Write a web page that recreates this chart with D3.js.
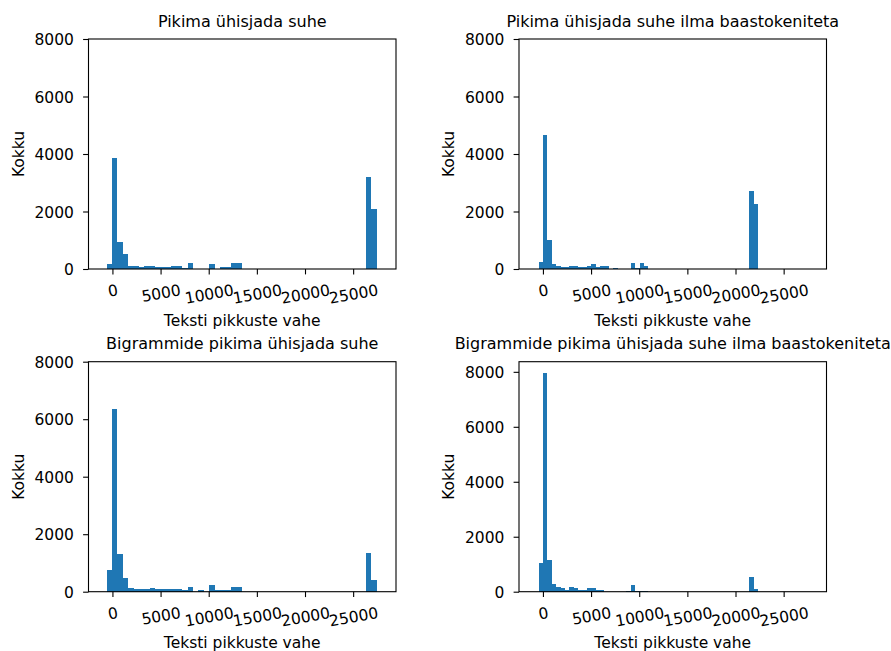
<!DOCTYPE html>
<html><head><meta charset="utf-8">
<script src="https://cdn.jsdelivr.net/npm/d3@7"></script>
<style>body{margin:0;background:#fff}svg{display:block}text{font-family:"DejaVu Sans",sans-serif;fill:#000}</style>
</head><body><svg id="c" width="891" height="651"></svg>
<script>
// ---------- data ----------
const titles = [
  "Pikima ühisjada suhe",
  "Pikima ühisjada suhe ilma baastokeniteta",
  "Bigrammide pikima ühisjada suhe",
  "Bigrammide pikima ühisjada suhe ilma baastokeniteta"
];
const xLabel = "Teksti pikkuste vahe";
const yLabel = "Kokku";
const binCount = 50;
const binRangeFull = [-600, 27450];     // panels 1 & 3
const binRangeNoBase = [-454, 22346];   // panels 2 & 4
const countsLcs = [170, 3870, 950, 510, 115, 110, 60, 115, 115, 70, 70, 60, 115, 115, 50, 210, 0, 0, 0, 160, 0, 55, 55, 200, 200,
  0,0,0,0,0,0,0,0,0,0,0,0,0,0,0,0,0,0,0,0,0,0,0, 3210, 2077];
const countsLcsNoBase = [254, 4660, 1000, 160, 115, 70, 70, 116, 116, 70, 70, 116, 162, 70, 116, 116, 0, 50, 0, 0, 0, 209, 40, 209, 116,
  0,0,0,0,0,0,0,0,0,0,0,0,0,0,0,0,0,0,0,0,0,0,0, 2713, 2261];
const countsBigram = [750, 6370, 1300, 460, 140, 95, 95, 100, 140, 100, 80, 100, 100, 100, 70, 150, 0, 45, 0, 250, 50, 50, 50, 150, 150,
  0,0,0,0,0,0,0,0,0,0,0,0,0,0,0,0,0,0,0,0,0,0,0, 1360, 410];
const countsBigramNoBase = [1055, 7970, 1150, 270, 160, 130, 60, 160, 120, 60, 60, 150, 150, 50, 50, 0, 0, 0, 0, 0, 40, 230, 40, 40, 40,
  0,0,0,0,0,0,0,0,0,0,0,0,0,0,0,0,0,0,0,0,0,0,0, 520, 100];
const xTicks = [0, 5000, 10000, 15000, 20000, 25000];
const yTicks = [0, 2000, 4000, 6000, 8000];
const xLimits = [-2485, 29450];
const yFixedMax = 8000;

// ---------- layout ----------
const W = 307.5, H = 230;
const panels = [
  {left: 88.5, top: 39,    title: titles[0], counts: countsLcs,          range: binRangeFull,   yMax: yFixedMax},
  {left: 519,  top: 39,    title: titles[1], counts: countsLcsNoBase,    range: binRangeNoBase, yMax: yFixedMax},
  {left: 88.5, top: 361.7, title: titles[2], counts: countsBigram,       range: binRangeFull,   yMax: yFixedMax},
  {left: 519,  top: 361.7, title: titles[3], counts: countsBigramNoBase, range: binRangeNoBase, yMax: null}
];
const FS = 15.5, TFS = 16, TICK = 5.4, SW = 1.1;
const svg = d3.select("#c");

panels.forEach(p => {
  const g = svg.append("g").attr("transform", `translate(${p.left},${p.top})`);
  const x = d3.scaleLinear().domain(xLimits).range([0, W]);
  const ymax = p.yMax != null ? p.yMax : d3.max(p.counts) * 1.05;
  const y = d3.scaleLinear().domain([0, ymax]).range([H, 0]);
  const bw = (p.range[1] - p.range[0]) / binCount;
  const bins = p.counts.map((c, i) => ({x0: p.range[0] + i * bw, x1: p.range[0] + (i + 1) * bw, c}));

  g.selectAll("rect.bar").data(bins.filter(b => b.c > 0)).join("rect")
    .attr("class", "bar")
    .attr("x", d => x(d.x0)).attr("width", d => x(d.x1) - x(d.x0))
    .attr("y", d => y(d.c)).attr("height", d => H - y(d.c))
    .attr("fill", "#1f77b4").attr("shape-rendering", "crispEdges");

  // y axis
  const ya = g.append("g").call(d3.axisLeft(y).tickValues(yTicks).tickSize(TICK).tickPadding(14.6 - TICK).tickFormat(d3.format("d")));
  ya.select(".domain").remove();
  ya.selectAll("line").attr("stroke", "#000").attr("stroke-width", SW);
  ya.selectAll("text").attr("font-size", FS).attr("dy", "0.364em").attr("font-family", "DejaVu Sans").attr("fill", "#000");

  // x axis
  const xa = g.append("g").attr("transform", `translate(0,${H})`)
    .call(d3.axisBottom(x).tickValues(xTicks).tickSize(TICK).tickFormat(d3.format("d")));
  xa.select(".domain").remove();
  xa.selectAll("line").attr("stroke", "#000").attr("stroke-width", SW);
  xa.selectAll("text").attr("font-size", FS).attr("font-family", "DejaVu Sans").attr("fill", "#000")
    .attr("y", null).attr("dy", null)
    .each(function() {
      const t = d3.select(this);
      const w = this.getComputedTextLength();
      const cy = 20.6 + w * 0.0868;
      t.attr("x", 0).attr("y", cy).attr("dy", "0.364em").attr("text-anchor", "middle")
        .attr("transform", `rotate(-10,0,${cy})`);
    });

  // spines
  g.append("rect").attr("x", 0).attr("y", 0).attr("width", W).attr("height", H)
    .attr("fill", "none").attr("stroke", "#000").attr("stroke-width", SW);

  // title
  g.append("text").attr("x", W / 2).attr("y", -12.3).attr("text-anchor", "middle")
    .attr("font-size", TFS).text(p.title);
  // x label
  g.append("text").attr("x", W / 2).attr("y", H + 56.5).attr("text-anchor", "middle")
    .attr("font-size", FS).text(xLabel);
  // y label
  g.append("text").attr("transform", `translate(-65,${H / 2}) rotate(-90)`).attr("text-anchor", "middle")
    .attr("font-size", FS).text(yLabel);
});
</script></body></html>
